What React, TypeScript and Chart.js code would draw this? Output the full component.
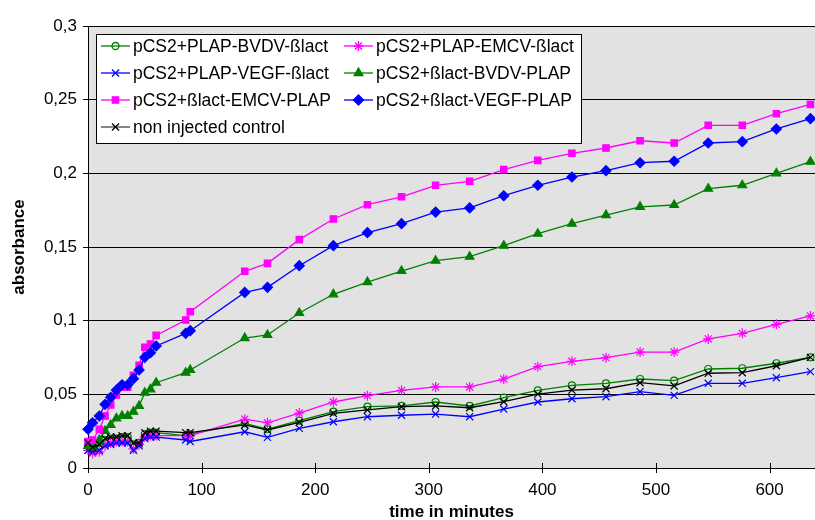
import React, { useEffect, useRef } from 'react';
import { Chart, registerables } from 'chart.js';
import { drawPoint } from 'chart.js/helpers';

Chart.register(...registerables);

const times = [0, 4, 10, 15, 20, 25, 30, 35, 40, 45, 50, 55, 60, 86, 90, 138, 158, 186, 216, 246, 276, 306, 336, 366, 396, 426, 456, 486, 516, 546, 576, 606, 636];

const seriesLabels = [
  'pCS2+PLAP-BVDV-ßlact',
  'pCS2+PLAP-EMCV-ßlact',
  'pCS2+PLAP-VEGF-ßlact',
  'pCS2+ßlact-BVDV-PLAP',
  'pCS2+ßlact-EMCV-PLAP',
  'pCS2+ßlact-VEGF-PLAP',
  'non injected control',
];

const plapBvdvBlact = [0.015, 0.013, 0.015, 0.019, 0.020, 0.020, 0.021, 0.021, 0.016, 0.017, 0.023, 0.024, 0.024, 0.022, 0.023, 0.0303, 0.0263, 0.0321, 0.0382, 0.0416, 0.0421, 0.0448, 0.0421, 0.0477, 0.0527, 0.0561, 0.0575, 0.0604, 0.0593, 0.0672, 0.0677, 0.0711, 0.0751];
const plapEmcvBlact = [0.012, 0.010, 0.011, 0.015, 0.017, 0.018, 0.018, 0.018, 0.013, 0.016, 0.021, 0.022, 0.022, 0.022, 0.022, 0.0331, 0.0307, 0.0373, 0.0448, 0.0491, 0.0527, 0.0550, 0.0550, 0.0604, 0.0688, 0.0724, 0.0749, 0.0787, 0.0787, 0.0876, 0.0914, 0.0975, 0.1032];
const plapVegfBlact = [0.012, 0.011, 0.012, 0.015, 0.016, 0.017, 0.017, 0.017, 0.012, 0.015, 0.020, 0.021, 0.021, 0.019, 0.018, 0.0246, 0.0208, 0.0269, 0.0314, 0.0348, 0.0358, 0.0366, 0.0348, 0.0400, 0.0448, 0.0470, 0.0484, 0.0518, 0.0493, 0.0575, 0.0575, 0.0613, 0.0654];
const blactBvdvPlap = [0.015, 0.014, 0.019, 0.0251, 0.0292, 0.0337, 0.0353, 0.0353, 0.0382, 0.0421, 0.0511, 0.0534, 0.0579, 0.0647, 0.0665, 0.0882, 0.0903, 0.1052, 0.1179, 0.1262, 0.1337, 0.1407, 0.1434, 0.1509, 0.1590, 0.1658, 0.1717, 0.1773, 0.1785, 0.1896, 0.1919, 0.2000, 0.2079];
const blactEmcvPlap = [0.018, 0.019, 0.0263, 0.0353, 0.0428, 0.0495, 0.0548, 0.0548, 0.0629, 0.0697, 0.0819, 0.0842, 0.0900, 0.1004, 0.1061, 0.1335, 0.1389, 0.1550, 0.1690, 0.1787, 0.1841, 0.1919, 0.1946, 0.2025, 0.2088, 0.2136, 0.2172, 0.2221, 0.2206, 0.2326, 0.2326, 0.2405, 0.2468];
const blactVegfPlap = [0.0263, 0.0307, 0.0353, 0.0432, 0.0480, 0.0529, 0.0565, 0.0565, 0.0606, 0.0665, 0.0751, 0.0783, 0.0828, 0.0914, 0.0932, 0.1192, 0.1226, 0.1373, 0.1509, 0.1597, 0.1658, 0.1737, 0.1765, 0.1848, 0.1919, 0.1975, 0.2018, 0.2072, 0.2082, 0.2206, 0.2215, 0.2301, 0.2371];
const controlValues = [0.017, 0.014, 0.016, 0.020, 0.021, 0.021, 0.022, 0.022, 0.017, 0.017, 0.024, 0.025, 0.025, 0.024, 0.024, 0.0292, 0.0258, 0.0310, 0.0371, 0.0394, 0.0416, 0.0421, 0.0409, 0.0450, 0.0502, 0.0529, 0.0538, 0.0579, 0.0557, 0.0643, 0.0647, 0.0694, 0.0751];

const seriesValues = [plapBvdvBlact, plapEmcvBlact, plapVegfBlact, blactBvdvPlap, blactEmcvPlap, blactVegfPlap, controlValues];

const yTickValues = [0, 0.05, 0.1, 0.15, 0.2, 0.25, 0.3];
const xTickValues = [0, 100, 200, 300, 400, 500, 600];

const GREEN = '#008000';
const MAGENTA = '#ff00ff';
const BLUE = '#0000ff';
const BLACK = '#000000';

const styles = [
  { color: GREEN, fill: 'rgba(0,0,0,0)', pointStyle: 'circle', radius: 3.5 },
  { color: MAGENTA, fill: MAGENTA, pointStyle: 'star', radius: 5 },
  { color: BLUE, fill: BLUE, pointStyle: 'crossRot', radius: 5 },
  { color: GREEN, fill: GREEN, pointStyle: 'triangle', radius: 5 },
  { color: MAGENTA, fill: MAGENTA, pointStyle: 'rect', radius: 4.5 },
  { color: BLUE, fill: BLUE, pointStyle: 'rectRot', radius: 5 },
  { color: BLACK, fill: BLACK, pointStyle: 'crossRot', radius: 5 },
];

const FONT = '"Liberation Sans", Arial, Helvetica, sans-serif';

const bgPlugin = {
  id: 'plotBg',
  beforeDraw(chart: any) {
    const { ctx, chartArea } = chart;
    ctx.save();
    ctx.fillStyle = '#e2e2e2';
    ctx.fillRect(chartArea.left, chartArea.top, chartArea.right - chartArea.left, chartArea.bottom - chartArea.top);
    ctx.restore();
  },
};

const xTickPlugin = {
  id: 'xCrossTicks',
  afterDraw(chart: any) {
    const { ctx, chartArea } = chart;
    const xs = chart.scales.x;
    ctx.save();
    ctx.strokeStyle = '#000';
    ctx.lineWidth = 1;
    xTickValues.forEach((v) => {
      const px = Math.round(xs.getPixelForValue(v)) + 0.5;
      ctx.beginPath();
      ctx.moveTo(px, chartArea.bottom - 5);
      ctx.lineTo(px, chartArea.bottom + 5);
      ctx.stroke();
    });
    ctx.restore();
  },
};

const legendPlugin = {
  id: 'boxLegend',
  afterDatasetsDraw(chart: any) {
    const ctx = chart.ctx;
    const L = 96, T = 34, R = 581, B = 143;
    ctx.save();
    ctx.fillStyle = '#ffffff';
    ctx.fillRect(L, T, R - L, B - T);
    ctx.strokeStyle = '#000';
    ctx.lineWidth = 1;
    ctx.strokeRect(L + 0.5, T + 0.5, R - L, B - T);
    chart.data.datasets.forEach((ds: any, i: number) => {
      const col = i % 2;
      const row = Math.floor(i / 2);
      const x0 = col === 0 ? 101 : 344;
      const y = 46 + row * 27;
      const st = styles[i];
      ctx.strokeStyle = i === 6 ? '#444' : st.color;
      ctx.lineWidth = 1.3;
      ctx.beginPath();
      ctx.moveTo(x0, y);
      ctx.lineTo(x0 + 29, y);
      ctx.stroke();
      ctx.strokeStyle = st.color;
      ctx.fillStyle = st.fill;
      drawPoint(ctx, { pointStyle: st.pointStyle, radius: st.radius, borderWidth: 1.2, rotation: 0 } as any, x0 + 14.5, y);
      ctx.fillStyle = '#000';
      ctx.font = '17.5px ' + FONT;
      ctx.textBaseline = 'middle';
      ctx.textAlign = 'left';
      ctx.fillText(ds.label, x0 + 32, y + 1);
    });
    ctx.restore();
  },
};

function fmt(v: number) {
  const r = Math.round(v * 100) / 100;
  return String(r).replace('.', ',');
}

export default function App() {
  const ref = useRef<HTMLCanvasElement | null>(null);
  useEffect(() => {
    if (!ref.current) return;
    const datasets = seriesLabels.map((label, i) => ({
      label,
      data: times.map((t, j) => ({ x: t, y: seriesValues[i][j] })),
      borderColor: styles[i].color,
      backgroundColor: styles[i].fill,
      pointBackgroundColor: styles[i].fill,
      pointBorderColor: styles[i].color,
      pointStyle: styles[i].pointStyle,
      pointRadius: styles[i].radius,
      pointBorderWidth: 1.2,
      borderWidth: 1.3,
      tension: 0,
      fill: false,
      clip: false,
      order: 6 - i,
    }));
    const chart = new Chart(ref.current, {
      type: 'line',
      data: { datasets },
      plugins: [bgPlugin, xTickPlugin, legendPlugin],
      options: {
        animation: false,
        responsive: true,
        maintainAspectRatio: false,
        layout: { autoPadding: false, padding: { top: 26, right: 0, left: 0, bottom: 0 } },
        plugins: { legend: { display: false }, tooltip: { enabled: false } },
        scales: {
          x: {
            type: 'linear',
            min: 0,
            max: 640,
            afterBuildTicks: (s: any) => {
              s.ticks = xTickValues.map((v) => ({ value: v }));
            },
            afterFit: (s: any) => {
              s.height = 52;
              s.paddingRight = 0;
              s.paddingLeft = 0;
            },
            grid: { drawOnChartArea: false, drawTicks: false },
            border: { display: true, color: '#000', width: 1 },
            ticks: {
              color: '#000',
              font: { family: FONT, size: 17 },
              padding: 12,
              maxRotation: 0,
              callback: (v: any) => String(v),
            },
            title: {
              display: true,
              text: 'time in minutes',
              color: '#000',
              font: { family: FONT, size: 17, weight: 'bold', lineHeight: 1 },
              padding: { top: 0, bottom: -1 },
            },
          },
          y: {
            type: 'linear',
            min: 0,
            max: 0.3,
            afterBuildTicks: (s: any) => {
              s.ticks = yTickValues.map((v) => ({ value: v }));
            },
            afterFit: (s: any) => {
              s.width = 88;
            },
            grid: { color: '#000', lineWidth: 1, tickLength: 5, drawTicks: true },
            border: { display: true, color: '#000', width: 1 },
            ticks: {
              color: '#000',
              font: { family: FONT, size: 17 },
              padding: 6,
              callback: (v: any) => fmt(Number(v)),
            },
            title: {
              display: true,
              text: 'absorbance',
              color: '#000',
              font: { family: FONT, size: 17, weight: 'bold' },
              padding: { top: 9, bottom: 0 },
            },
          },
        },
      } as any,
    });
    return () => chart.destroy();
  }, []);
  return (
    <div style={{ position: 'absolute', left: 0, top: 0, width: 815, height: 520, background: '#fff' }}>
      <canvas ref={ref} />
    </div>
  );
}
